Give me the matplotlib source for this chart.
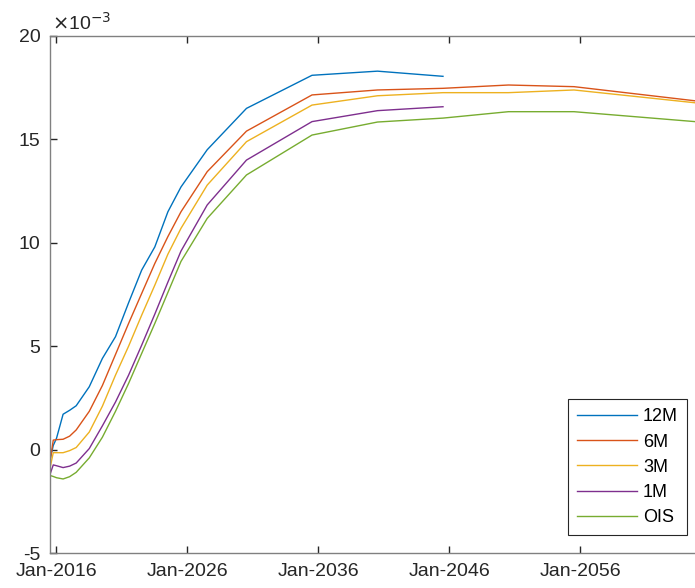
import datetime as dt
import numpy as np
import matplotlib
matplotlib.use("Agg")
import matplotlib.pyplot as plt
import matplotlib.dates as mdates

plt.rcParams['font.family'] = ['Liberation Sans', 'DejaVu Sans']
plt.rcParams['axes.unicode_minus'] = False

# curve start date and tenors (years)
start = dt.date(2015, 7, 15)
tenors = [0, 0.25, 0.5, 1, 1.5, 2, 3, 4, 5, 6, 7, 8, 9, 10, 12, 15, 20, 25, 30, 35, 40, 50]

# forward rates, in units of 1e-3
r12m = [-0.5, 0.2, 0.55, 1.71, 1.9, 2.12, 3.04, 4.41, 5.46, 7.1, 8.68, 9.8, 11.5, 12.7,
        14.5, 16.5, 18.1, 18.3, 18.05, np.nan, np.nan, np.nan]
r6m = [-0.6, 0.46, 0.48, 0.5, 0.65, 0.95, 1.85, 3.1, 4.6, 6.1, 7.55, 9.0, 10.3, 11.5,
       13.44, 15.4, 17.15, 17.39, 17.47, 17.63, 17.55, 16.81]
r3m = [-0.9, -0.15, -0.15, -0.15, -0.05, 0.1, 0.85, 2.1, 3.6, 5.0, 6.5, 7.95, 9.45, 10.7,
       12.79, 14.89, 16.66, 17.11, 17.26, 17.26, 17.39, 16.72]
r1m = [-1.2, -0.74, -0.78, -0.87, -0.8, -0.65, 0.05, 1.15, 2.3, 3.6, 5.05, 6.55, 8.1, 9.6,
       11.83, 14.0, 15.86, 16.39, 16.58, np.nan, np.nan, np.nan]
ois = [-1.25, -1.3, -1.36, -1.42, -1.31, -1.1, -0.4, 0.6, 1.85, 3.2, 4.65, 6.1, 7.6, 9.1,
       11.18, 13.28, 15.21, 15.84, 16.03, 16.34, 16.34, 15.82]

labels = ['12M', '6M', '3M', '1M', 'OIS']
series = [r12m, r6m, r3m, r1m, ois]
colors = ['#0072BD', '#D95319', '#EDB120', '#7E2F8E', '#77AC30']

dates = [start + dt.timedelta(days=365.25 * t) for t in tenors]

fig = plt.figure(figsize=(6.95, 5.88), dpi=100)
ax = fig.add_axes([50 / 695, 35 / 588, 655 / 695, 517 / 588])

for s, lab, c in zip(series, labels, colors):
    ax.plot(dates, s, color=c, lw=1.0, label=lab)

ax.set_xlim(dates[0], dates[-1])
ax.set_ylim(-5, 20)
ax.set_yticks([-5, 0, 5, 10, 15, 20])
ax.set_xticks([dt.date(y, 1, 1) for y in [2016, 2026, 2036, 2046, 2056]])
ax.xaxis.set_major_formatter(mdates.DateFormatter('%b-%Y'))

for sp in ax.spines.values():
    sp.set_color('0.5')
    sp.set_linewidth(1.0)
ax.tick_params(direction='in', length=5, width=1, color='0.15', labelsize=14,
               labelcolor='0.15', top=True, right=True, pad=7)

ax.text(0.003, 1.005, r'$\times$10$^{\mathrm{-3}}$', transform=ax.transAxes,
        fontsize=14, color='0.15', va='bottom', ha='left')

leg = ax.legend(loc='lower right', bbox_to_anchor=(687 / 695, 53 / 588),
                bbox_transform=fig.transFigure, fancybox=False, edgecolor='0.15',
                fontsize=13, handlelength=3.3, borderpad=0.5, labelspacing=0.45,
                handletextpad=0.35, borderaxespad=0, framealpha=1)
leg.get_frame().set_linewidth(0.8)

fig.savefig('out.png', dpi=100)
